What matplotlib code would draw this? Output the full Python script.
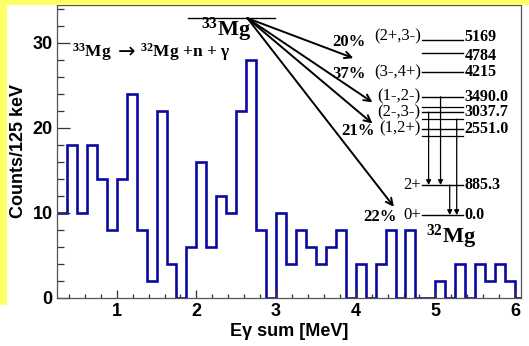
import matplotlib
matplotlib.use("Agg")
import matplotlib.pyplot as plt
from matplotlib.patches import Rectangle
from matplotlib.ticker import MultipleLocator
from matplotlib.offsetbox import TextArea, HPacker, AnnotationBbox
import numpy as np

# Summed gamma-energy spectrum, 125 keV bins starting at 0.25 MeV
bin_start = 0.25
bin_width = 0.125
counts = [10, 18, 10, 18, 14, 8, 14, 24, 8, 2,
          22, 4, 0, 6, 16, 6, 12, 10, 22, 28,
          8, 0, 10, 4, 8, 6, 4, 6, 8, 0,
          4, 0, 4, 8, 0, 8, 0, 0, 2, 0,
          4, 0, 4, 2, 4, 2, 0]

# 32Mg level scheme (keV) with spin/parity labels and beta-n feeding
level_energies = [5169, 4784, 4215, 3490.0, 3037.7, 2551.0, 885.3, 0.0]
level_text = ["5169", "4784", "4215", "3490.0", "3037.7", "2551.0", "885.3", "0.0"]
level_spins = ["(2+,3-)", "", "(3-,4+)", "(1-,2-)", "(2-,3-)", "(1,2+)", "2+", "0+"]
extra_levels = [3180, 2830, 2330]
feedings = [("20%", 5169), ("37%", 4215), ("21%", 2551.0), ("22%", 0.0)]
# gamma transitions (x position in MeV units of the plot, from level, to level)
transitions = [(4.915, 3037.7, 885.3), (5.065, 3490.0, 885.3),
               (5.18, 885.3, 0.0), (5.268, 2830, 0.0)]

W, H = 529, 346
fig = plt.figure(figsize=(W / 100, H / 100), dpi=100, facecolor="white")

yellow = "#ffff66"
fig.patches.append(Rectangle((0, 341 / H), 1, 5 / H, transform=fig.transFigure,
                             facecolor=yellow, edgecolor="none", zorder=0))
fig.patches.append(Rectangle((0, 41 / H), 7 / W, 305 / H, transform=fig.transFigure,
                             facecolor=yellow, edgecolor="none", zorder=0))

ax = fig.add_axes([57 / W, 48.3 / H, (521 - 57) / W, (297.7 - 5) / H])
ax.set_facecolor("white")

edges = bin_start + bin_width * np.arange(len(counts) + 1)
ax.stairs(counts, edges, color="#0a0aa0", lw=1.9, baseline=None)

ax.set_xlim(0.25, 6.075)
ax.set_ylim(0, 34.45)

sans = "Liberation Sans"
serif = ["Liberation Serif", "DejaVu Serif"]

ax.xaxis.set_major_locator(MultipleLocator(1))
ax.xaxis.set_minor_locator(MultipleLocator(0.2))
ax.yaxis.set_major_locator(MultipleLocator(10))
ax.yaxis.set_minor_locator(MultipleLocator(2))
ax.tick_params(axis="both", which="both", direction="in", color="#333333")
ax.tick_params(axis="y", which="major", length=9.5, width=0.9, pad=3)
ax.tick_params(axis="y", which="minor", length=5, width=0.9)
ax.tick_params(axis="x", which="major", length=6, width=0.9, pad=4)
ax.tick_params(axis="x", which="minor", length=3, width=0.9)
for lab in ax.get_xticklabels() + ax.get_yticklabels():
    lab.set_fontfamily(sans)
    lab.set_fontweight("bold")
    lab.set_fontsize(13)
for sp in ax.spines.values():
    sp.set_color("#555555")
    sp.set_linewidth(0.9)

ax.set_xlabel("Eγ sum [MeV]", fontfamily=sans, fontweight="bold", fontsize=13,
              labelpad=2)
ax.set_ylabel("Counts/125 keV", fontfamily=sans, fontweight="bold", fontsize=13,
              labelpad=4)

plt.rcParams["mathtext.fontset"] = "custom"
plt.rcParams["mathtext.rm"] = "Liberation Serif"
plt.rcParams["mathtext.bf"] = "Liberation Serif:bold"

# reaction label, built from pieces so the arrow can use a wider glyph
reaction_style = dict(family=serif, fontweight="bold", fontsize=12.5)
pieces = HPacker(children=[
    TextArea(r"$\mathbf{^{33}}$Mg", textprops=reaction_style),
    TextArea("→", textprops=dict(family="DejaVu Sans", fontsize=15)),
    TextArea(r"$\mathbf{^{32}}$Mg +n + γ", textprops=reaction_style),
], pad=0, sep=4, align="center")
ax.add_artist(AnnotationBbox(pieces, (0.44, 28.9), box_alignment=(0, 0.5),
                             frameon=False, pad=0))

# parent nucleus
ax.plot([1.9, 2.99], [32.9, 32.9], color="black", lw=1.0)
ax.text(2.37, 31.5, r"$\mathbf{^{33}}$Mg", family=serif, fontweight="bold",
        fontsize=16, ha="center", va="center")


def level_y(e):
    return 9.73 + e / 250.7


# small vertical nudges keep the two top energy labels apart
label_shift = {5169: 0.35, 4784: -0.35}

x_lo, x_hi = 4.828, 5.343
for e, txt, spin in zip(level_energies, level_text, level_spins):
    y = level_y(e)
    ax.plot([x_lo, x_hi], [y, y], color="black", lw=1.0)
    ax.text(x_hi + 0.02, y + label_shift.get(e, 0), txt, family=serif,
            fontweight="bold", fontsize=11.5, ha="left", va="center")
    if spin:
        ax.text(x_lo - 0.01, y + label_shift.get(e, 0), spin, family=serif,
                fontsize=12, ha="right", va="center")
for e in extra_levels:
    y = level_y(e)
    ax.plot([x_lo, x_hi], [y, y], color="black", lw=0.9)

pct_x = {5169: 3.92, 4215: 3.92, 2551.0: 4.03, 0.0: 4.3}
for pct, e in feedings:
    ax.text(pct_x[e], level_y(e) - 0.25, pct, family=serif, fontweight="bold",
            fontsize=12, ha="center", va="center")

for x, e_from, e_to in transitions:
    ax.annotate("", xy=(x, level_y(e_to)), xytext=(x, level_y(e_from)),
                arrowprops=dict(arrowstyle="-|>", color="black", lw=0.9,
                                mutation_scale=7, shrinkA=0, shrinkB=0))

# beta-decay feeding arrows from the 33Mg ground state
start = (2.64, 32.9)
ends = [(3.97, 28.2), (4.21, 23.0), (4.21, 20.5), (4.48, 10.7)]
for end in ends:
    ax.annotate("", xy=end, xytext=start,
                arrowprops=dict(arrowstyle="->", color="black", lw=1.4,
                                mutation_scale=12, shrinkA=0, shrinkB=0))

ax.text(5.2, 7.2, r"$\mathbf{^{32}}$Mg", family=serif, fontweight="bold",
        fontsize=16, ha="center", va="center")

fig.savefig("out.png", dpi=100, facecolor="white")
